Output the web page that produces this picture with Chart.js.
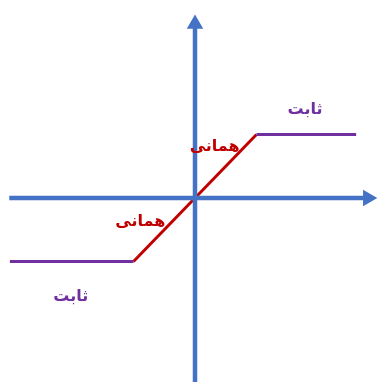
<!DOCTYPE html>
<html><head><meta charset="utf-8">
<script src="https://cdn.jsdelivr.net/npm/chart.js@4"></script>
<style>html,body{margin:0;padding:0;background:#fff}canvas{display:block}</style>
</head><body>
<canvas id="c" width="378" height="382"></canvas>
<script>
// piecewise function: constant - identity - constant
const lowX = [-3.01, -1];
const lowY = [-1, -1];
const identX = [-1, 1];
const identY = [-1, 1];
const highX = [1, 2.62];
const highY = [1, 1];
// axes (with arrow heads at the end)
const xAxisX = [-3.02, 2.81];
const yAxisY = [-2.92, 2.74];
// labels
const labelTexts = ['ثابت', 'ثابت', 'همانی', 'همانی'];
const labelX = [1.79, -2.02, 0.32, -0.89];
const labelY = [1.39, -1.56, 0.80, -0.38];
const labelColors = ['#7030A0', '#7030A0', '#C00000', '#C00000'];

const blue = '#4472C4';
const pts = (xs, ys) => xs.map((x, i) => ({x, y: ys[i]}));

const labelPlugin = {
  id: 'labels',
  afterDatasetsDraw(chart) {
    const {ctx, scales: {x, y}} = chart;
    ctx.save();
    ctx.font = 'bold 16px "DejaVu Sans"';
    ctx.textAlign = 'center';
    ctx.textBaseline = 'middle';
    labelTexts.forEach((t, i) => {
      ctx.fillStyle = labelColors[i];
      ctx.fillText(t, x.getPixelForValue(labelX[i]), y.getPixelForValue(labelY[i]));
    });
    ctx.restore();
  }
};

new Chart(document.getElementById('c'), {
  type: 'scatter',
  data: {
    datasets: [
      {data: pts(xAxisX, [0, 0]), showLine: true, borderColor: blue, borderWidth: 4.5,
       pointStyle: 'triangle', pointRadius: [0, 9.5], pointRotation: 90,
       pointBackgroundColor: blue, pointBorderColor: blue, pointBorderWidth: 0, clip: false},
      {data: pts([0, 0], yAxisY), showLine: true, borderColor: blue, borderWidth: 4.5,
       pointStyle: 'triangle', pointRadius: [0, 9.5], pointRotation: 0,
       pointBackgroundColor: blue, pointBorderColor: blue, pointBorderWidth: 0, clip: false},
      {data: pts(lowX, lowY), showLine: true, borderColor: '#7030A0', borderWidth: 3, pointRadius: 0},
      {data: pts(highX, highY), showLine: true, borderColor: '#7030A0', borderWidth: 3, pointRadius: 0},
      {data: pts(identX, identY), showLine: true, borderColor: '#C00000', borderWidth: 3, pointRadius: 0}
    ]
  },
  options: {
    responsive: false,
    animation: false,
    layout: {padding: 0, autoPadding: false},
    plugins: {legend: {display: false}, tooltip: {enabled: false}},
    scales: {
      x: {type: 'linear', display: false, min: -195/61.5, max: 183/61.5},
      y: {type: 'linear', display: false, min: -184/63.5, max: 198/63.5}
    }
  },
  plugins: [labelPlugin]
});
</script>
</body></html>
